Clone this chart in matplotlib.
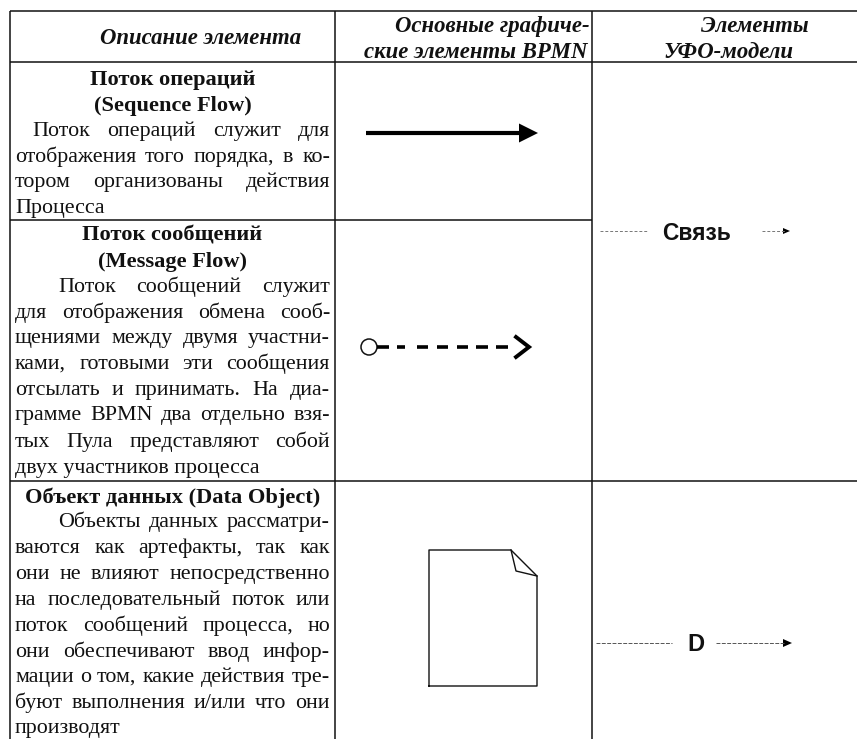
import matplotlib
matplotlib.use("Agg")
import matplotlib.pyplot as plt
from matplotlib.patches import Circle, Polygon

SERIF = "Liberation Serif"
SANS = "Liberation Sans"
HEAD_SIZE = 16.4
TITLE_SIZE = 16.15
BODY_SIZE = 15.8
BLACK = "#111111"

# table grid, in pixels of the page
col_x = [10, 335, 592]
row_y = [11, 62, 220, 481]
page_right = 857
page_bottom = 739

# header cells: text, left x, baseline
headers = [
    ("Описание элемента", 100, 44),
    ("Основные графиче-", 395, 32),
    ("ские элементы BPMN", 364, 58),
    ("Элементы", 701, 32),
    ("УФО-модели", 663, 58),
]

# bold centred titles: text, baseline
titles = [
    ("Поток операций", 85),
    ("(Sequence Flow)", 111),
    ("Поток сообщений", 241),
    ("(Message Flow)", 267),
    ("Объект данных (Data Object)", 503),
]

# body lines: text, baseline, left x, justified or not
body = [
    ("Поток операций служит для", 136, 32, True),
    ("отображения того порядка, в ко-", 162, 15, True),
    ("тором организованы действия", 187, 15, True),
    ("Процесса", 213, 15, False),
    ("Поток сообщений служит", 292, 58, True),
    ("для отображения обмена сооб-", 318, 15, True),
    ("щениями между двумя участни-", 343, 15, True),
    ("ками, готовыми эти сообщения", 369, 15, True),
    ("отсылать и принимать. На диа-", 395, 15, True),
    ("грамме BPMN два отдельно взя-", 420, 15, True),
    ("тых Пула представляют собой", 447, 15, True),
    ("двух участников процесса", 473, 15, False),
    ("Объекты данных рассматри-", 527, 58, True),
    ("ваются как артефакты, так как", 553, 15, True),
    ("они не влияют непосредственно", 579, 15, True),
    ("на последовательный поток или", 605, 15, True),
    ("поток сообщений процесса, но", 631, 15, True),
    ("они обеспечивают ввод инфор-", 657, 15, True),
    ("мации о том, какие действия тре-", 682, 15, True),
    ("буют выполнения и/или что они", 708, 15, True),
    ("производят", 733, 15, False),
]
body_right = 330

# sequence flow arrow
seq_x = [366, 520]
seq_y = 133
seq_head = [(519, 123.5), (538, 133), (519, 142.5)]

# message flow arrow
msg_y = 347
msg_circle = (369, 347, 8)
msg_dashes = [(377, 389), (397, 405), (417, 428), (437, 448), (457, 468), (476, 488), (496, 508)]
msg_chevron = [(516, 337), (529, 347), (516, 357)]

# data object outline
doc_outline = [(429, 686), (429, 550), (511, 550), (537, 576), (537, 686), (429, 686)]
doc_fold = [(511, 550), (516, 571), (537, 576)]

# right column labels and their dotted connectors
link_label = ("Связь", 662, 240)
link_dots = [(600, 648), (762, 785)]
link_y = 231
link_tip = [(783, 228), (790, 231), (783, 234)]
data_label = ("D", 687, 651)
data_dots = [(596, 672), (716, 785)]
data_y = 643
data_tip = [(783, 639), (792, 643), (783, 647)]

fig = plt.figure(figsize=(8.57, 7.39), dpi=100)
ax = fig.add_axes([0, 0, 1, 1])
ax.set_xlim(0, page_right)
ax.set_ylim(page_bottom, 0)
ax.axis("off")


def hline(y, x0, x1, lw=1.1):
    ax.plot([x0, x1], [y, y], color=BLACK, lw=lw, solid_capstyle="butt")


def vline(x, y0, y1, lw=1.1):
    ax.plot([x, x], [y0, y1], color=BLACK, lw=lw, solid_capstyle="butt")


def put(s, x, y, **kw):
    return ax.text(x, y, s, va="baseline", ha="left", color=BLACK, **kw)


def justified(s, x, y, right):
    # lay the words out by hand so both edges of the column line up
    renderer = fig.canvas.get_renderer()
    items = [put(w, 0, y, family=SERIF, fontsize=BODY_SIZE) for w in s.split()]
    widths = [t.get_window_extent(renderer).width for t in items]
    gap = (right - x - sum(widths)) / (len(items) - 1)
    pos = x
    for t, w in zip(items, widths):
        t.set_x(pos)
        pos += w + gap


# grid
hline(row_y[0], col_x[0], page_right)
hline(row_y[1], col_x[0], page_right)
hline(row_y[2], col_x[0], col_x[2])
hline(row_y[3], col_x[0], page_right)
for x in col_x:
    vline(x, row_y[0], page_bottom)

for s, x, y in headers:
    put(s, x, y, family=SERIF, fontsize=HEAD_SIZE, weight="bold", style="italic")

for s, y in titles:
    ax.text((col_x[0] + col_x[1]) / 2, y, s, family=SERIF, fontsize=TITLE_SIZE, weight="bold",
            ha="center", va="baseline", color=BLACK)

for s, y, x, just in body:
    if just:
        justified(s, x, y, body_right)
    else:
        put(s, x, y, family=SERIF, fontsize=BODY_SIZE)

# sequence flow
ax.plot(seq_x, [seq_y, seq_y], color="black", lw=3, solid_capstyle="butt")
ax.add_patch(Polygon(seq_head, closed=True, color="black", lw=0))

# message flow
for x0, x1 in msg_dashes:
    ax.plot([x0, x1], [msg_y, msg_y], color="black", lw=2.6, solid_capstyle="butt")
ax.plot(*zip(*msg_chevron), color="black", lw=2.8, solid_joinstyle="miter")
ax.add_patch(Circle(msg_circle[:2], msg_circle[2], fc="white", ec=BLACK, lw=1.1))

# data object
ax.plot(*zip(*doc_outline), color=BLACK, lw=1.0)
ax.plot(*zip(*doc_fold), color=BLACK, lw=1.0)

# right column
for x0, x1 in link_dots:
    ax.plot([x0, x1], [link_y, link_y], color="#777777", lw=0.7, ls=(0, (3, 2)))
for x0, x1 in data_dots:
    ax.plot([x0, x1], [data_y, data_y], color="#555555", lw=0.7, ls=(0, (4, 1.5)))
ax.add_patch(Polygon(link_tip, closed=True, color="black", lw=0))
ax.add_patch(Polygon(data_tip, closed=True, color="black", lw=0))
put(link_label[0], link_label[1], link_label[2], family=SANS, fontsize=16.4, weight="bold")
put(data_label[0], data_label[1], data_label[2], family=SANS, fontsize=17, weight="bold")

fig.savefig("out.png", dpi=100, facecolor="white")
